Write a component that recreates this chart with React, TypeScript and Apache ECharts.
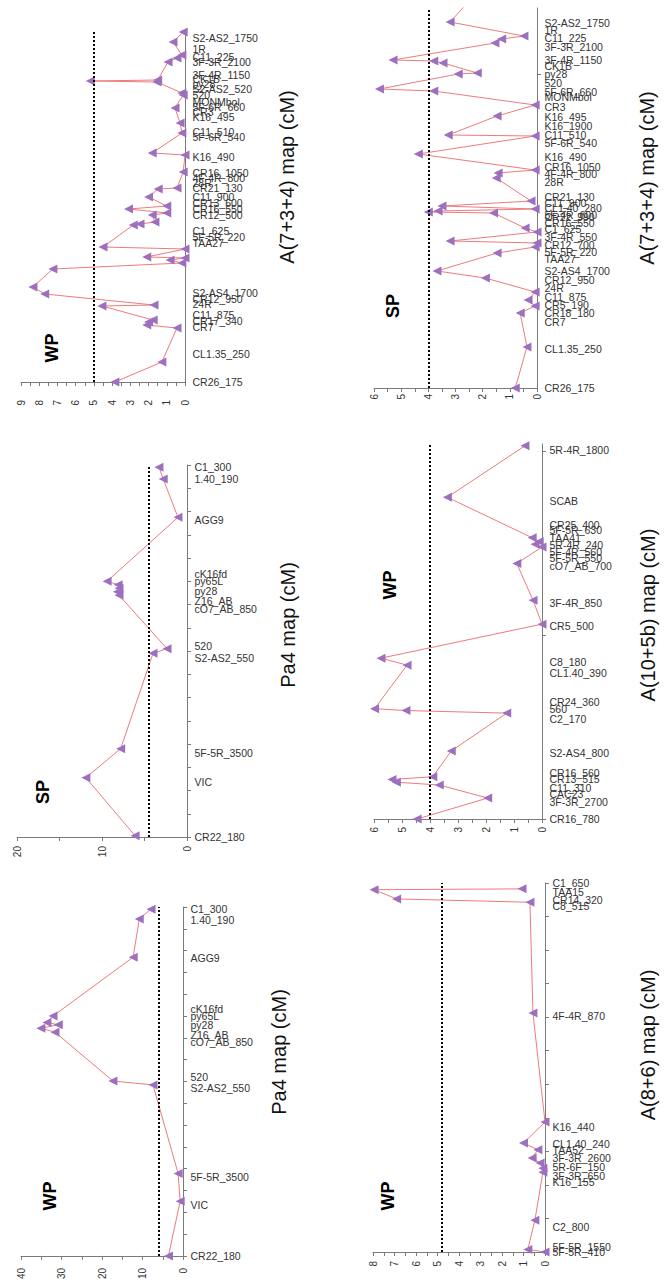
import React, { useEffect, useRef } from "react";
import * as echarts from "echarts";

// ---------- Panel A: A(7+3+4) map, WP ----------
const aMarkerNames = ["S2-AS2_1750","1R","C11_225","3F-3R_2100","3F-4R_1150","CK1B","py28","S2-AS2_520","520","MONMbol","5F-6R_660","CR3","K16_495","C11_510","5F-6R_540","K16_490","CR16_1050","4F-4R_800","28R","CR21_130","C11_900","CR13_600","CR16_550","CR12_500","C1_625","5F-5R_220","TAA27","S2-AS4_1700","CR12_950","24R","C11_875","CR17_340","CR7","CL1.35_250","CR26_175"];
const aMarkerPos = [172,166.5,162.5,160,153.5,151.5,149,146.5,143.5,140,137.5,135,132.5,125,122.5,112.5,104.5,102,99.5,97,92.5,89.5,86.5,83.5,75.5,72.5,69.5,44.5,41.5,39,33.5,30.5,27.5,14,0];
const aPos = [175,170,163.5,162,160,151,150.5,150,144.5,143.5,137,129.5,124.5,114.5,113.5,105,97,96.5,92.5,88,86.5,84.5,83.5,80,79,78.5,67.5,66.5,62.5,62,61,59.5,56.5,47.5,44,38.5,38,31,30,28.5,27,10,0];
const aLod = [0.1,0.66,0.17,0.44,0.93,1.5,5.2,1.54,0.17,0.1,0.55,0.27,0.17,1.8,0.0,0.1,0.44,1.47,2.0,1.0,3.1,1.0,1.8,1.65,2.47,2.84,4.5,0.0,2.1,0.0,0.82,0.17,7.25,8.35,7.7,1.7,4.56,1.75,2.0,2.1,0.44,1.27,3.85];

// ---------- Panel B: Pa4 map, SP ----------
const pa4MarkerNames = ["C1_300","1.40_190","AGG9","cK16fd","py65L","py28","Z16_AB","cO7_AB_850","520","S2-AS2_550","5F-5R_3500","VIC","CR22_180"];
const pa4MarkerPos = [159,154,136.5,113,110,106,101.5,98,82,77,36,23.5,0];
const pa4Ticks = [0,10,20,30,40,50,60,70,80,90,100,110,120,130,140,150,160];
const bPos = [159,154,137.5,110,108.5,107,105.5,104,81,79,38,25.5,0.5];
const bLod = [3.3,2.8,1.06,9.4,8.1,8.0,8.2,8.0,2.35,4.0,7.8,11.9,6.1];

// ---------- Panel C: Pa4 map, WP ----------
const cPos = [159,154.5,137,110,107,106,104.4,102.6,80.2,78.4,37.8,25,0];
const cLod = [7.9,10.8,12.3,32.1,33.6,30.8,35.1,31.6,17.3,7.4,1.2,0.7,3.6];

// ---------- Panel D: A(7+3+4) map, SP ----------
const dMarkerNames = ["S2-AS2_1750","1R","C11_225","3F-3R_2100","3F-4R_1150","CK1B","py28","520","5F-6R_660","MONMbol","CR3","K16_495","K16_1900","C11_510","5F-6R_540","K16_490","CR16_1050","4F-4R_800","28R","CR21_130","C11_900","CL1.40_280","5F-4R_600","CR22_990","CR16_550","C1_625","3F-4R_550","CR12_700","5F-5R_220","TAA27","S2-AS4_1700","CR12_950","24R","C11_875","CR5_190","CR18_180","CR7","CL1.35_250","CR26_175"];
const dMarkerPos = [182.5,179,175,170.5,164,161,157,152.5,148,145.5,140.5,135.5,131,126.5,122.5,115.5,110.5,107,103,95.5,92.5,90,86.5,85.5,82.5,79.5,75.5,71.5,68,64.5,58.5,54,50,45.5,41.5,37.5,33,19.5,0];
const dTicks = [157];
const dPos = [194,183,176,174.5,172.5,164,163.5,162.5,157.5,157,149.5,148.5,141.5,136,126.5,126,117,109,107.5,105,93.5,91,89.5,88.5,88,87.5,80,78,73.5,72.5,70.5,67.5,58.5,55,48,44,41,37.5,20.5,0];
const dLod = [2.46,3.2,0.48,1.3,1.55,5.3,3.8,3.46,2.2,2.9,5.8,3.8,0.07,1.47,3.27,0.07,4.37,0.07,1.43,1.5,0.22,3.5,0.07,3.64,4.0,1.6,0.44,0,3.2,0,0.07,1.47,3.68,1.9,0.07,0.33,0.07,0.62,0.37,0.8];

// ---------- Panel E: A(10+5b) map, WP ----------
const eMarkerNames = ["5R-4R_1800","SCAB","CR25_400","5F-5R_630","TAA41","5R-4R_240","5F-4R_560","5F-5R_550","cO7_AB_700","3F-4R_850","CR5_500","C8_180","CL1.40_390","CR24_360","560","C2_170","S2-AS4_800","CR16_560","CR13_515","C11_310","CAC23","3F-3R_2700","CR16_780"];
const eMarkerPos = [201,173,160,157,153,149,145,142,137.5,117.4,105.2,85.3,79.3,63.6,59.8,54.3,35.9,25,21.7,16.8,13.6,9.2,0];
const eTicks = [0,100,200];
const ePos = [203,175,153,151,149.5,148,139,119,106,87.5,83.7,60,59,57.6,37,23,21.5,20,18.5,11.4,0];
const eLod = [0.61,3.38,0.35,0.1,0.25,0,0.9,0.32,0,5.75,4.82,5.98,4.86,1.26,3.24,3.9,5.36,5.2,3.67,1.94,4.46];

// ---------- Panel F: A(8+6) map, WP ----------
const fMarkerNames = ["C1_650","TAA15","CR14_320","C8_515","4F-4R_870","K16_440","CL1.40_240","TAA52","3F-3R_2600","5R-6F_150","3F-3R_650","K16_155","C2_800","5F-5R_1550","5F-5R_410"];
const fMarkerPos = [220,214.5,210,206,140.5,74.5,64.5,61,56,50.5,45.5,41.5,15,3,0];
const fTicks = [0,20,40,60,80,100,120,140,160,180,200,220];
const fPos = [216.5,216,210.5,208.5,142.5,77.5,65,61,56,53,50,47.5,19,1.5,0];
const fLod = [1.07,7.95,6.9,0.7,0.56,0,1.0,0.33,0.6,0.23,0.1,0.1,0.47,0.8,0];

// thresholds and axis ranges
const thresholds = [5, 4.5, 6, 4, 4, 4.8];
const lodMax = [9, 20, 40, 6, 6, 8];
const lodInterval = [1, 10, 10, 1, 1, 1];
const mapMax = [175, 160, 160, 190, 204, 220];

const mapTitles = ["A(7+3+4) map (cM)", "Pa4 map (cM)", "Pa4 map (cM)", "A(7+3+4) map (cM)", "A(10+5b) map (cM)", "A(8+6) map (cM)"];
const popLabels = ["WP", "SP", "WP", "SP", "WP", "WP"];

const FONT = '"Liberation Sans", Arial, Helvetica, sans-serif';

export default function App() {
  const ref = useRef<HTMLDivElement>(null);

  useEffect(() => {
    if (!ref.current) return;
    const chart = echarts.init(ref.current, null, { renderer: "svg" });

    const panels = [
      { names: aMarkerNames, mpos: aMarkerPos, ticks: null as number[] | null, pos: aPos, lod: aLod,
        grid: { left: 21, top: 32, width: 164, height: 350 }, lm: 18,
        title: [287, 177], pop: [52, 348] },
      { names: pa4MarkerNames, mpos: pa4MarkerPos, ticks: pa4Ticks, pos: bPos, lod: bLod,
        grid: { left: 17, top: 465, width: 170, height: 372 }, lm: 9,
        title: [288, 625], pop: [43, 792] },
      { names: pa4MarkerNames, mpos: pa4MarkerPos, ticks: pa4Ticks, pos: cPos, lod: cLod,
        grid: { left: 21, top: 907, width: 162, height: 351 }, lm: 12,
        title: [279, 1052], pop: [50, 1196] },
      { names: dMarkerNames, mpos: dMarkerPos, ticks: dTicks, pos: dPos, lod: dLod,
        grid: { left: 374, top: 8, width: 163, height: 380 }, lm: 6,
        title: [647, 178], pop: [393, 306] },
      { names: eMarkerNames, mpos: eMarkerPos, ticks: eTicks, pos: ePos, lod: eLod,
        grid: { left: 374, top: 444, width: 168, height: 375 }, lm: 8,
        title: [648, 615], pop: [390, 585] },
      { names: fMarkerNames, mpos: fMarkerPos, ticks: fTicks, pos: fPos, lod: fLod,
        grid: { left: 373, top: 883, width: 172, height: 369 }, lm: 9,
        title: [648, 1045], pop: [388, 1196] },
    ];

    const axisColor = "#7a7a7a";

    const lineSeries = panels.map((p, i) => ({
      type: "line",
      xAxisIndex: i,
      yAxisIndex: i,
      data: p.pos.map((y, k) => [p.lod[k], y]),
      symbol: "triangle",
      symbolRotate: 90,
      symbolSize: 9,
      showAllSymbol: true,
      itemStyle: { color: "#9c6fbf" },
      lineStyle: { color: "#ee7b7b", width: 1 },
      z: 3,
      markLine: {
        silent: true,
        symbol: "none",
        label: { show: false },
        lineStyle: { color: "#000", type: "dotted", width: 2 },
        data: [{ xAxis: thresholds[i] }],
      },
    }));

    const labelSeries = panels.map((p, i) => ({
      type: "scatter",
      xAxisIndex: i,
      yAxisIndex: i,
      silent: true,
      clip: false,
      symbol: "circle",
      symbolSize: 1,
      itemStyle: { color: "rgba(255,255,255,0)" },
      z: 5,
      data: p.mpos.map((y, k) => ({ value: [0, y], name: p.names[k] })),
      label: {
        show: true,
        position: "right",
        distance: 7,
        formatter: "{b}",
        fontSize: 10.5,
        color: "#333",
        opacity: 1,
        fontFamily: FONT,
      },
      labelLayout: { hideOverlap: false },
    }));

    const option: any = {
      animation: false,
      backgroundColor: "#ffffff",
      grid: panels.map((p) => ({ ...p.grid, containLabel: false })),
      xAxis: panels.map((p, i) => ({
        gridIndex: i,
        type: "value",
        inverse: true,
        min: 0,
        max: lodMax[i],
        interval: lodInterval[i],
        position: "bottom",
        axisLine: { show: true, onZero: false, lineStyle: { color: axisColor, width: 1 } },
        axisTick: { show: true, length: 4, lineStyle: { color: axisColor } },
        minorTick: { show: true, splitNumber: 2, length: 4, lineStyle: { color: axisColor } },
        splitLine: { show: false },
        minorSplitLine: { show: false },
        axisLabel: { rotate: 90, fontSize: 10, color: "#333", margin: p.lm, fontFamily: FONT,
          showMinLabel: true, showMaxLabel: true },
      })),
      yAxis: panels.map((p, i) => ({
        gridIndex: i,
        type: "value",
        position: "right",
        min: 0,
        max: mapMax[i],
        axisLine: { show: true, onZero: false, lineStyle: { color: axisColor, width: 1 } },
        axisTick: p.ticks
          ? { show: true, customValues: p.ticks, length: 4, lineStyle: { color: axisColor } }
          : { show: false },
        splitLine: { show: false },
        axisLabel: { show: false },
      })),
      series: [...lineSeries, ...labelSeries],
      graphic: [
        ...panels.map((p, i) => ({
          type: "text",
          x: p.title[0],
          y: p.title[1],
          rotation: Math.PI / 2,
          style: {
            text: mapTitles[i],
            font: `20px ${FONT}`,
            fill: "#111",
            align: "center",
            verticalAlign: "middle",
            textAlign: "center",
            textVerticalAlign: "middle",
          },
        })),
        ...panels.map((p, i) => ({
          type: "text",
          x: p.pop[0],
          y: p.pop[1],
          rotation: Math.PI / 2,
          style: {
            text: popLabels[i],
            font: `bold 18px ${FONT}`,
            fill: "#000",
            align: "center",
            verticalAlign: "middle",
            textAlign: "center",
            textVerticalAlign: "middle",
          },
        })),
      ],
    };

    chart.setOption(option);
    return () => {
      chart.dispose();
    };
  }, []);

  return (
    <div
      ref={ref}
      style={{ position: "absolute", left: 0, top: 0, width: 668, height: 1282, background: "#fff" }}
    />
  );
}
